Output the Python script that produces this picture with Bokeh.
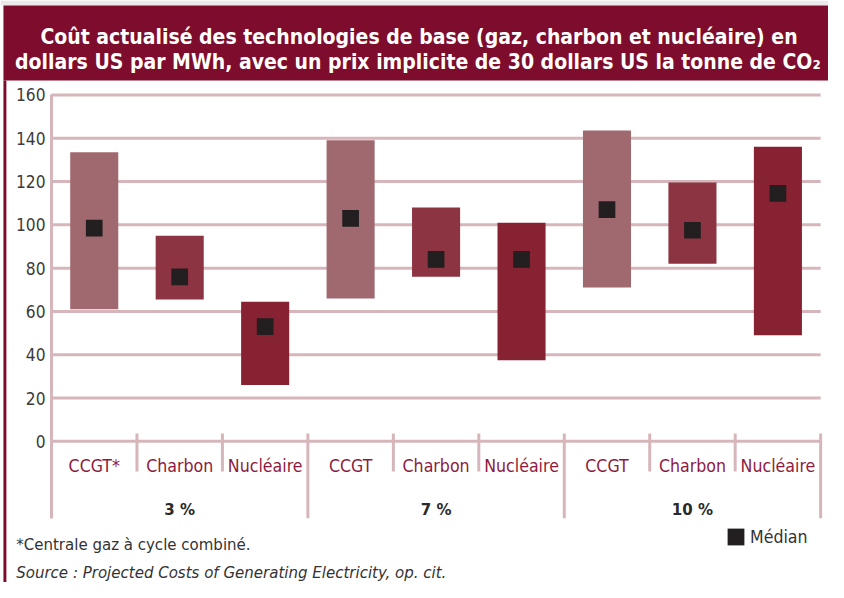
from bokeh.plotting import figure
from bokeh.models import Range1d, LinearAxis, FixedTicker, Legend, LegendItem
from bokeh.core.properties import value
from bokeh.embed import file_html
from bokeh.resources import INLINE

# ---------------- data ----------------
rates = ["3 %", "7 %", "10 %"]
techs = ["CCGT", "Charbon", "Nucléaire"]
cat_labels = ["CCGT*", "Charbon", "Nucléaire",
              "CCGT", "Charbon", "Nucléaire",
              "CCGT", "Charbon", "Nucléaire"]
low = [61, 65.5, 26, 66, 76, 37.5, 71, 82, 49]
high = [133.5, 95, 64.5, 139, 108, 101, 143.5, 119.5, 136]
median = [98.5, 76, 53, 103, 84, 84, 107, 97.5, 114.5]
y_ticks = [0, 20, 40, 60, 80, 100, 120, 140, 160]
title_lines = ["Coût actualisé des technologies de base (gaz, charbon et nucléaire) en",
               "dollars US par MWh, avec un prix implicite de 30 dollars US la tonne de CO₂"]
footnote = "*Centrale gaz à cycle combiné."
source = "Source : Projected Costs of Generating Electricity, op. cit."
legend_label = "Médian"

# ---------------- style ----------------
F = "DejaVu Sans Condensed"
MAROON = "#7e0c2c"
GRID = "#d6b6ba"
LABEL = "#8e1a3e"
TECH_COLORS = {"CCGT": "#a0696f", "Charbon": "#8d3442", "Nucléaire": "#872233"}

W, H = 828, 582
X0, X1 = -0.5969, 9.092
Y0, Y1 = -65.17, 203.59

p = figure(width=W, height=H, x_range=Range1d(X0, X1), y_range=Range1d(Y0, Y1),
           output_backend="svg", toolbar_location=None,
           x_axis_location=None, y_axis_location=None, min_border=0,
           outline_line_color=None, background_fill_color="white",
           border_fill_color="white")
p.grid.visible = False

# title bar and frame decoration
p.quad(left=X0, right=X1, bottom=201.3, top=Y1, fill_color="#ece9ea", line_color=None)
p.quad(left=-0.5625, right=X1, bottom=166.7, top=201.3, fill_color=MAROON, line_color=None)
p.quad(left=-0.5625, right=-0.528, bottom=Y0, top=166.7, fill_color=MAROON, line_color=None)
p.text(x=[4.30, 4.287], y=[186.7, 175.0], text=title_lines,
       text_font=value(F), text_font_size=value("21px"), text_font_style="bold",
       text_color="white", text_align="center", text_baseline="alphabetic")

# grid lines
n_cat = len(cat_labels)
p.segment(x0=0, x1=n_cat, y0=y_ticks, y1=y_ticks, line_color=GRID, line_width=3)

# y axis
yax = LinearAxis(fixed_location=0, ticker=FixedTicker(ticks=y_ticks), bounds=(-35.5, max(y_ticks)),
                 axis_line_color=GRID, axis_line_width=3,
                 major_tick_line_color=None, minor_tick_line_color=None,
                 major_label_text_font=F, major_label_text_font_size="17.2px",
                 major_label_text_color="#3b3b3b", major_label_standoff=0)
p.add_layout(yax, "left")

# separators
n = len(techs)
minor_x = [g * n + k for g in range(len(rates)) for k in range(1, n)]
major_x = [(g + 1) * n for g in range(len(rates))]
p.segment(x0=minor_x, x1=minor_x, y0=3.6, y1=-13.9, line_color=GRID, line_width=3)
p.segment(x0=major_x, x1=major_x, y0=3.6, y1=-35.5, line_color=GRID, line_width=3)

# bars
xc = [i + 0.5 for i in range(n_cat)]
colors = [TECH_COLORS[techs[i % n]] for i in range(n_cat)]
p.vbar(x=xc, width=0.5625, bottom=low, top=high, fill_color=colors, line_color=None)
r_med = p.rect(x=xc, y=median, width=16.7, height=16.7, width_units="screen",
               height_units="screen", fill_color="#231f20", line_color=None)

# category labels
p.text(x=xc, y=-11.2, text=cat_labels, text_font=value(F), text_font_size=value("17.6px"),
       text_color=LABEL, text_align="center", text_baseline="alphabetic")
gx = [g * n + n / 2 for g in range(len(rates))]
p.text(x=gx, y=-31.0, text=rates, text_font=value(F), text_font_size=value("16.7px"),
       text_font_style="bold", text_color="#2a2a2a", text_align="center",
       text_baseline="alphabetic")

# footnotes
p.text(x=[-0.413], y=[-47.2], text=[footnote], text_font=value(F), text_font_size=value("16.7px"),
       text_color="#333333", text_align="left", text_baseline="alphabetic")
p.text(x=[-0.413], y=[-60.2], text=[source], text_font=value(F), text_font_size=value("16.7px"),
       text_font_style="italic", text_color="#333333", text_align="left",
       text_baseline="alphabetic")

legend = Legend(items=[LegendItem(label=legend_label, renderers=[r_med])],
                location=(725, 35), glyph_width=21, glyph_height=21, padding=0, margin=0,
                label_standoff=4, label_text_font=F, label_text_font_size="17.6px",
                label_text_color="#333333", background_fill_alpha=0, border_line_alpha=0)
p.add_layout(legend)

open("out.html", "w").write(file_html(p, INLINE))
